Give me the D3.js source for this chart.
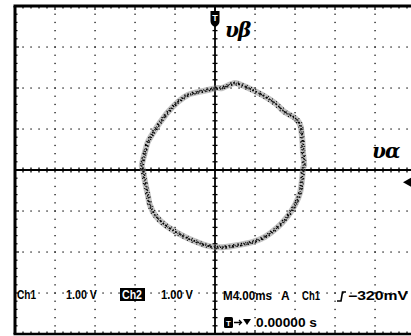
<!DOCTYPE html>
<html><head><meta charset="utf-8">
<script src="https://cdn.jsdelivr.net/npm/d3@7"></script>
<style>html,body{margin:0;padding:0;background:#fff;overflow:hidden}</style>
</head><body>
<svg id="c" width="411" height="336"></svg>
<script>
// XY trace: Ch1 (v-alpha, volts) vs Ch2 (v-beta, volts), 1.00 V/div
const traceAlpha = [-1.83,-1.75,-1.68,-1.55,-1.38,-1.18,-0.93,-0.68,-0.43,-0.18,0.05,0.18,0.50,0.83,1.18,1.50,1.75,2.00,2.13,2.18,2.20,2.23,2.20,2.18,2.13,2.00,1.80,1.55,1.25,0.93,0.58,0.25,0.00,-0.25,-0.58,-0.93,-1.25,-1.50,-1.63,-1.68,-1.75,-1.80];
const traceBeta  = [0.12,0.44,0.68,0.90,1.15,1.41,1.66,1.83,1.90,1.95,2.00,2.00,2.12,2.00,1.83,1.63,1.41,1.27,1.10,0.78,0.44,0.12,0.05,-0.20,-0.54,-0.85,-1.15,-1.41,-1.63,-1.76,-1.83,-1.88,-1.88,-1.83,-1.71,-1.54,-1.34,-1.10,-0.85,-0.61,-0.29,0.00];
const xDivs = [-5,-4,-3,-2,-1,0,1,2,3,4,5];
const yDivs = [-4,-3,-2,-1,0,1,2,3,4];
const labelAlpha = "υα", labelBeta = "υβ";
const readout1 = ["Ch1", "1.00 V", "Ch2", "1.00 V"];
const readout2 = ["M4.00ms", "A", "Ch1", "\u2212320mV"];
const readout3 = "0.00000 s";

const svg = d3.select("#c");
const x = d3.scaleLinear().domain([-5,5]).range([15,415]);
const y = d3.scaleLinear().domain([-4,4]).range([334,6]);
const minor = d3.range(-25,26).map(d=>d/5);
const minorY = d3.range(-20,21).map(d=>d/5);

const g = svg.append("g");
// dotted graticule
xDivs.filter(d=>d!==0 && Math.abs(d)<5).forEach(v=>{
  g.selectAll(null).data(minorY).enter().append("rect")
   .attr("x",x(v)-0.6).attr("y",d=>y(d)-0.6).attr("width",1.3).attr("height",1.3).attr("fill","#111");
});
yDivs.filter(d=>d!==0 && Math.abs(d)<4).forEach(v=>{
  g.selectAll(null).data(minor).enter().append("rect")
   .attr("x",d=>x(d)-0.6).attr("y",y(v)-0.6).attr("width",1.3).attr("height",1.3).attr("fill","#111");
});
// center axes
g.append("line").attr("x1",x(-5)).attr("x2",x(5)).attr("y1",y(0)).attr("y2",y(0)).attr("stroke","#000").attr("stroke-width",1.8);
g.append("line").attr("x1",x(0)).attr("x2",x(0)).attr("y1",y(-4)).attr("y2",y(4)).attr("stroke","#000").attr("stroke-width",1.8);
g.selectAll(null).data(minor).enter().append("line")
  .attr("x1",d=>x(d)).attr("x2",d=>x(d)).attr("y1",y(0)-2.5).attr("y2",y(0)+2.5).attr("stroke","#000").attr("stroke-width",1.3);
g.selectAll(null).data(minorY).enter().append("line")
  .attr("y1",d=>y(d)).attr("y2",d=>y(d)).attr("x1",x(0)-2.5).attr("x2",x(0)+2.5).attr("stroke","#000").attr("stroke-width",1.3);
// border ticks
g.selectAll(null).data(minor).enter().append("line")
  .attr("x1",d=>x(d)).attr("x2",d=>x(d)).attr("y1",y(4)).attr("y2",d=>y(4)+(Number.isInteger(d)?4:2.5)).attr("stroke","#000").attr("stroke-width",1.2);
g.selectAll(null).data(minor).enter().append("line")
  .attr("x1",d=>x(d)).attr("x2",d=>x(d)).attr("y1",y(-4)).attr("y2",d=>y(-4)-(Number.isInteger(d)?4:2.5)).attr("stroke","#000").attr("stroke-width",1.2);
g.selectAll(null).data(minorY).enter().append("line")
  .attr("y1",d=>y(d)).attr("y2",d=>y(d)).attr("x1",x(-5)).attr("x2",d=>x(-5)+(Number.isInteger(d)?4:2.5)).attr("stroke","#000").attr("stroke-width",1.2);
// frame
g.append("line").attr("x1",x(-5)-1.5).attr("x2",411).attr("y1",y(4)).attr("y2",y(4)).attr("stroke","#000").attr("stroke-width",2.8);
g.append("line").attr("x1",x(-5)-1.5).attr("x2",411).attr("y1",y(-4)).attr("y2",y(-4)).attr("stroke","#000").attr("stroke-width",2.5);
g.append("line").attr("x1",x(-5)).attr("x2",x(-5)).attr("y1",y(4)).attr("y2",y(-4)).attr("stroke","#000").attr("stroke-width",3);

// trace (noisy band)
const pts = traceAlpha.map((a,i)=>[x(a), y(traceBeta[i])]);
const line = d3.line().curve(d3.curveCardinalClosed.tension(0.3));
const dp = line(pts);
svg.append("path").attr("d",dp).attr("fill","none").attr("stroke","#888").attr("stroke-width",6).attr("stroke-opacity",0.5);
[[0,0,"1.1 2.3 0.7 1.9",1.7,0],[0.9,0.8,"0.9 3.1 1.4 2.2",1.5,1.3],[-0.9,-0.8,"1.2 2.7 0.8 3.3",1.5,2.1],[1.8,-1.2,"0.8 4.1 0.9 3.7",1.2,0.5],[-1.6,1.4,"0.9 3.9 1.1 4.3",1.2,2.9]]
 .forEach(([dx,dy,da,w,off])=>{
  svg.append("path").attr("d",dp).attr("fill","none").attr("stroke","#000").attr("stroke-width",w)
   .attr("stroke-dasharray",da).attr("stroke-dashoffset",off).attr("transform",`translate(${dx},${dy})`);
 });

// trigger marker top
const tm = svg.append("g").attr("transform",`translate(${x(0)},${y(4)})`);
tm.append("path").attr("d","M-4.5,5 L4.5,5 L4.5,15 Q4.5,19 0,21 Q-4.5,19 -4.5,15 Z").attr("fill","#000");
tm.append("text").attr("x",0).attr("y",15).attr("text-anchor","middle").attr("fill","#fff")
  .attr("font-family","Liberation Sans, Arial, sans-serif").attr("font-weight","bold").attr("font-size",9).text("T");
// right arrow marker
svg.append("path").attr("d",`M403,${y(-0.3)} L411,${y(-0.3)-4.5} L411,${y(-0.3)+4.5} Z`).attr("fill","#000");

// axis labels
svg.append("text").attr("x",225).attr("y",37).attr("font-family","DejaVu Serif, serif").attr("font-style","italic").attr("font-weight","bold")
  .attr("font-size",20).attr("fill","#000").attr("letter-spacing",-1).text(labelBeta);
svg.append("text").attr("x",372).attr("y",158).attr("font-family","DejaVu Serif, serif").attr("font-style","italic").attr("font-weight","bold")
  .attr("font-size",20).attr("fill","#000").attr("letter-spacing",-1).text(labelAlpha);

// readouts
const ft = "Liberation Sans, Arial, sans-serif";
function txt(xp, yp, s, w, fill){ const t = svg.append("text").attr("x",xp).attr("y",yp).attr("font-family",ft).attr("font-weight","bold").attr("font-size",12).attr("fill",fill||"#000").text(s); if(w) t.attr("textLength",w).attr("lengthAdjust","spacingAndGlyphs"); return t; }
svg.append("rect").attr("x",120).attr("y",288).attr("width",25).attr("height",13).attr("fill","#000");
txt(17,299,readout1[0],19); txt(66,299,readout1[1],31); txt(122,299,readout1[2],20,"#fff"); txt(161,299,readout1[3],32);
txt(223,300,readout2[0],49); txt(281,300,readout2[1]); txt(302,300,readout2[2],18);
svg.append("path").attr("d","M337,301 L341,301 L342.5,292 L346,292").attr("fill","none").attr("stroke","#000").attr("stroke-width",1.6);
txt(348,300,readout2[3],60);
// second line
svg.append("rect").attr("x",224).attr("y",317).attr("width",9).attr("height",11).attr("rx",1.5).attr("fill","#000");
svg.append("text").attr("x",228.5).attr("y",326).attr("text-anchor","middle").attr("font-family",ft).attr("font-weight","bold").attr("font-size",8).attr("fill","#fff").text("T");
svg.append("path").attr("d","M234,322.5 L241,322.5 M239,320 L241.5,322.5 L239,325").attr("fill","none").attr("stroke","#000").attr("stroke-width",1.3);
svg.append("path").attr("d","M243,319 L251,319 L247,325 Z").attr("fill","#000");
txt(256,327,readout3,61);
</script>
</body></html>
